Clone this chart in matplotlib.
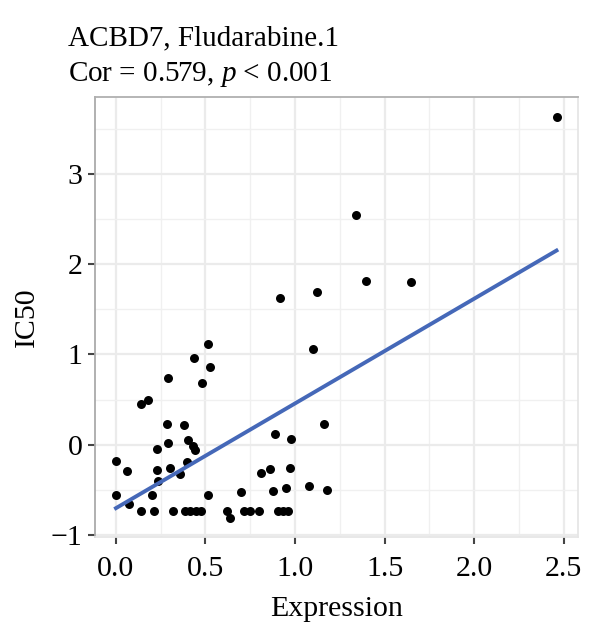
import numpy as np
import matplotlib
matplotlib.use('Agg')
import matplotlib.pyplot as plt
from matplotlib.ticker import MultipleLocator

plt.rcParams['font.family'] = ['Liberation Serif', 'DejaVu Serif']
plt.rcParams['mathtext.fontset'] = 'custom'
plt.rcParams['mathtext.rm'] = 'Liberation Serif'
plt.rcParams['mathtext.it'] = 'Liberation Serif:italic'

# values
expression = [0.00, 0.00, 0.06, 0.074, 0.14, 0.14, 0.177, 0.20, 0.21, 0.23,
              0.23, 0.236, 0.283, 0.29, 0.29, 0.30, 0.32, 0.36, 0.38, 0.395,
              0.405, 0.43, 0.44, 0.435, 0.385, 0.413, 0.446, 0.474, 0.513, 0.525,
              0.48, 0.513, 0.62, 0.636, 0.70, 0.714, 0.748, 0.80, 0.81, 0.86,
              0.89, 0.875, 0.904, 0.93, 0.96, 0.95, 0.97, 0.98, 1.077, 1.10,
              1.163, 1.176, 1.343, 0.915, 1.12, 1.395, 1.65, 2.46]
ic50 = [-0.18, -0.56, -0.29, -0.66, -0.73, 0.45, 0.50, -0.56, -0.73, -0.05,
        -0.28, -0.40, 0.23, 0.02, 0.74, -0.26, -0.73, -0.32, 0.22, -0.19,
        0.05, -0.01, -0.06, 0.96, -0.73, -0.73, -0.73, -0.73, 1.12, 0.86,
        0.69, -0.56, -0.73, -0.81, -0.52, -0.73, -0.73, -0.73, -0.31, -0.27,
        0.12, -0.51, -0.73, -0.73, -0.73, -0.48, -0.26, 0.07, -0.46, 1.06,
        0.23, -0.50, 2.54, 1.62, 1.69, 1.81, 1.80, 3.63]

gene = 'ACBD7'
drug = 'Fludarabine.1'
cor_text = 'Cor = 0.579, $p$ < 0.001'

x = np.array(expression)
y = np.array(ic50)

fig = plt.figure(figsize=(6, 6.44), dpi=100)
ax = fig.add_axes([95 / 600, 1 - 537 / 644, 483 / 600, 440 / 644])

ax.scatter(x, y, s=42, color='black', zorder=3, linewidths=0)

# linear fit, like geom_smooth(method='lm')
slope, intercept = np.polyfit(x, y, 1)
xs = np.linspace(x.min(), x.max(), 100)
ax.plot(xs, intercept + slope * xs, color='#4568b8', lw=2.8, zorder=4)

ax.set_xlim(-0.117, 2.58)
ax.set_ylim(-1.02, 3.85)
ax.xaxis.set_major_locator(MultipleLocator(0.5))
ax.xaxis.set_minor_locator(MultipleLocator(0.25))
ax.yaxis.set_major_locator(MultipleLocator(1))
ax.yaxis.set_minor_locator(MultipleLocator(0.5))
ax.xaxis.set_major_formatter(matplotlib.ticker.FormatStrFormatter('%.1f'))

ax.grid(which='major', color='#ebebeb', lw=1.6, zorder=0)
ax.grid(which='minor', color='#f0f0f0', lw=1.0, zorder=0)
ax.set_axisbelow(True)

ax.tick_params(which='major', direction='out', length=5, width=1.5,
               color='#444444', labelsize=21.5)
ax.tick_params(axis='x', which='major', pad=9)
ax.tick_params(axis='y', which='major', pad=4)
ax.tick_params(which='minor', length=0)

ax.spines['left'].set_color('#aaaaaa')
ax.spines['top'].set_color('#b0b0b0')
ax.spines['right'].set_color('#e6e6e6')
ax.spines['bottom'].set_color('#e6e6e6')
for s in ax.spines.values():
    s.set_linewidth(1.3)

ax.set_xlabel('Expression', fontsize=21.5, labelpad=10)
ax.set_ylabel('IC50', fontsize=21.5, labelpad=8)

fig.text(68 / 600, 1 - 45 / 644, f'{gene}, {drug}', fontsize=21,
         ha='left', va='baseline')
fig.text(68 / 600, 1 - 81 / 644, cor_text, fontsize=21,
         ha='left', va='baseline')

fig.savefig('out.png', dpi=100)
